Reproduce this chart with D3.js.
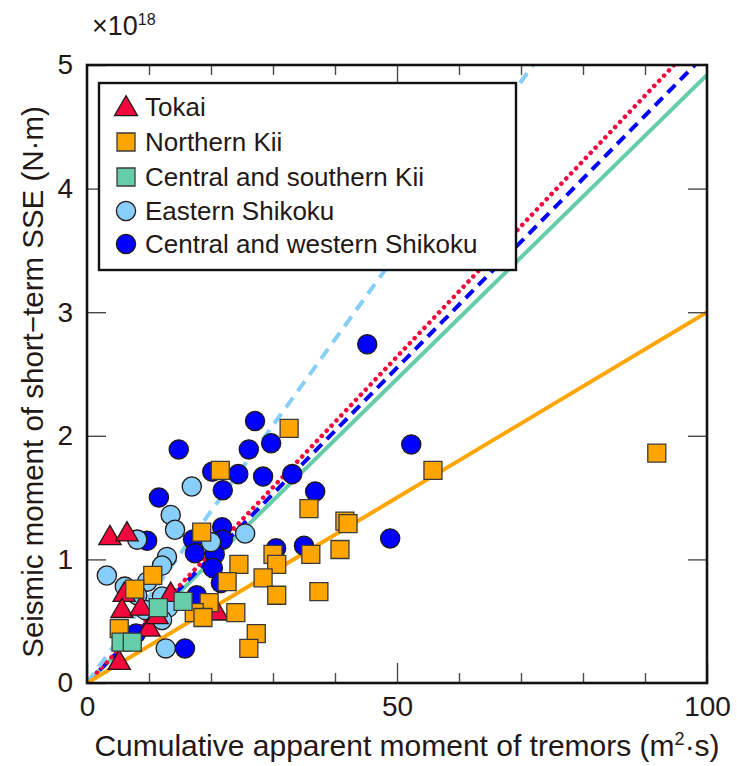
<!DOCTYPE html>
<html><head><meta charset="utf-8">
<script src="https://cdn.jsdelivr.net/npm/d3@7/dist/d3.min.js"></script>
<style>
html,body{margin:0;padding:0;background:#fff;}
text{font-family:"Liberation Sans",Arial,Helvetica,sans-serif;fill:#231815;}
</style></head>
<body>
<svg id="chart" width="737" height="766"></svg>
<script>
// ---- data (x: cumulative apparent moment of tremors, m^2·s; y: seismic moment ×1e18 N·m)
const seriesNames = ["Tokai","Northern Kii","Central and southern Kii","Eastern Shikoku","Central and western Shikoku"];
const tokai = [[3.7,1.18],[6.45,1.21],[6.0,0.72],[5.65,0.59],[8.7,0.61],[10.0,0.44],[13.5,0.72],[21.0,0.57],[5.2,0.17],[11.3,0.54]];
const northernKii = [[91.9,1.86],[55.8,1.72],[32.6,2.06],[21.5,1.72],[35.8,1.41],[41.6,1.31],[42.1,1.29],[18.5,1.22],[24.5,0.96],[30.0,1.04],[30.6,0.96],[36.1,1.04],[40.8,1.08],[22.6,0.82],[28.4,0.85],[30.6,0.71],[37.4,0.74],[19.7,0.65],[24.0,0.57],[17.3,0.57],[18.7,0.53],[27.3,0.40],[26.1,0.28],[10.6,0.87],[7.7,0.76],[5.2,0.44]];
const centralSouthernKii = [[15.5,0.66],[11.5,0.61],[5.5,0.33],[7.3,0.33]];
const easternShikoku = [[16.9,1.59],[13.5,1.36],[14.2,1.24],[8.1,1.16],[25.5,1.21],[20.0,1.14],[12.9,1.02],[3.2,0.87],[6.1,0.78],[9.7,0.82],[12.1,0.70],[13.1,0.61],[12.1,0.51],[12.7,0.28],[8.1,0.71],[9.4,0.59],[12.1,0.95]];
const centralWesternShikoku = [[45.2,2.74],[52.3,1.93],[48.9,1.17],[27.1,2.12],[14.8,1.89],[29.7,1.94],[26.1,1.89],[20.2,1.71],[24.4,1.69],[28.4,1.67],[33.1,1.69],[21.9,1.56],[36.8,1.55],[11.6,1.50],[21.8,1.26],[21.9,1.16],[17.1,1.16],[17.4,1.05],[20.6,1.04],[20.3,0.93],[21.6,0.81],[17.7,0.71],[30.5,1.09],[35.0,1.11],[9.7,1.15],[15.8,0.28],[7.9,0.40]];
// fitted slopes (×1e18 N·m per m^2·s), lines through the origin
const fitSlopes = [0.0528, 0.0300, 0.0492, 0.0695, 0.0510];
const xMajorTicks = [0, 50, 100];
const xMinorTicks = [10, 20, 30, 40, 60, 70, 80, 90];
const yTicks = [0, 1, 2, 3, 4, 5];
const xLabel = "Cumulative apparent moment of tremors (m";
const yLabel = "Seismic moment of short\u2212term SSE (N\u00b7m)";

// ---- styles
const colors = ["#f2083c", "#ffa500", "#66cdaa", "#87cefa", "#0000ff"];
const shapes = [d3.symbolTriangle, d3.symbolSquare, d3.symbolSquare, d3.symbolCircle, d3.symbolCircle];
const symSize = [215, 324, 324, 290, 290];
const strokes = ["#231815", "#3a3a3a", "#3a3a3a", "#231815", "#231815"];
const lineDash = ["0.1 7", null, null, "12 8", "11 7"];
const lineCap = ["round", "butt", "butt", "butt", "butt"];

const svg = d3.select("#chart");
const L = 87, R = 707, T = 65, B = 683;
const x = d3.scaleLinear().domain([0, 100]).range([L, R]);
const y = d3.scaleLinear().domain([0, 5]).range([B, T]);

svg.append("defs").append("clipPath").attr("id", "clip")
  .append("rect").attr("x", L).attr("y", T).attr("width", R - L).attr("height", B - T);

// fit lines
const plot = svg.append("g").attr("clip-path", "url(#clip)");
const lineOrder = [2, 4, 0, 3, 1];
lineOrder.forEach(i => {
  plot.append("line")
    .attr("x1", x(0)).attr("y1", y(0))
    .attr("x2", x(100)).attr("y2", y(100 * fitSlopes[i]))
    .attr("stroke", colors[i]).attr("stroke-width", i === 0 ? 4.5 : 4)
    .attr("stroke-linecap", lineCap[i])
    .attr("stroke-dasharray", lineDash[i]);
});

// points
const allData = [tokai, northernKii, centralSouthernKii, easternShikoku, centralWesternShikoku];
const drawOrder = [4, 3, 0, 1, 2];
drawOrder.forEach(i => {
  plot.append("g").selectAll("path").data(allData[i]).join("path")
    .attr("transform", d => `translate(${x(d[0])},${y(d[1]) + (i === 0 ? 1 : 0)})`)
    .attr("d", d3.symbol().type(shapes[i]).size(symSize[i]))
    .attr("fill", colors[i]).attr("stroke", strokes[i]).attr("stroke-width", 1.3);
});

// axes
function styleAxis(g) {
  g.select(".domain").remove();
  g.selectAll(".tick line").attr("stroke", "#4a4a4a").attr("stroke-width", 1.4);
  g.selectAll(".tick text").style("font-size", "28px").attr("fill", "#231815");
}
svg.append("g").attr("transform", `translate(0,${B})`)
  .call(d3.axisBottom(x).tickValues(xMinorTicks).tickSize(-10).tickFormat("")).call(styleAxis);
svg.append("g").attr("transform", `translate(0,${B})`)
  .call(d3.axisBottom(x).tickValues(xMajorTicks).tickSize(-20).tickPadding(13).tickFormat(d3.format("d"))).call(styleAxis);
svg.append("g").attr("transform", `translate(0,${T})`)
  .call(d3.axisTop(x).tickValues(xMinorTicks).tickSize(-10).tickFormat("")).call(styleAxis);
svg.append("g").attr("transform", `translate(0,${T})`)
  .call(d3.axisTop(x).tickValues([50]).tickSize(-20).tickFormat("")).call(styleAxis);
svg.append("g").attr("transform", `translate(${L},0)`)
  .call(d3.axisLeft(y).tickValues(yTicks).tickSize(-19).tickPadding(14).tickFormat(d3.format("d"))).call(styleAxis);
svg.append("g").attr("transform", `translate(${R},0)`)
  .call(d3.axisRight(y).tickValues(yTicks.slice(1, -1)).tickSize(-19).tickFormat("")).call(styleAxis);

// frame
svg.append("rect").attr("x", L).attr("y", T).attr("width", R - L).attr("height", B - T)
  .attr("fill", "none").attr("stroke", "#111").attr("stroke-width", 2.6);

// multiplier
const mult = svg.append("text").attr("x", 92).attr("y", 35).style("font-size", "27px");
mult.append("tspan").text("\u00d710");
mult.append("tspan").attr("dy", -10).style("font-size", "16px").text("18");

// axis labels
const xl = svg.append("text").attr("x", 407).attr("y", 756).attr("text-anchor", "middle").style("font-size", "30px");
xl.append("tspan").text(xLabel);
xl.append("tspan").attr("dy", -11).style("font-size", "18px").text("2");
xl.append("tspan").attr("dy", 11).text("\u00b7s)");
svg.append("text").attr("transform", "translate(43,382) rotate(-90)")
  .attr("text-anchor", "middle").style("font-size", "29.5px").text(yLabel);

// legend
const lg = svg.append("g");
lg.append("rect").attr("x", 99).attr("y", 83).attr("width", 417).attr("height", 187)
  .attr("fill", "#fff").attr("stroke", "#111").attr("stroke-width", 2.4);
const rowY = [107, 142, 177, 211, 244];
seriesNames.forEach((name, i) => {
  lg.append("path").attr("transform", `translate(126,${rowY[i] + (i === 0 ? 2 : 0)})`)
    .attr("d", d3.symbol().type(shapes[i]).size(i === 0 ? 230 : symSize[i]))
    .attr("fill", colors[i]).attr("stroke", strokes[i]).attr("stroke-width", 1.3);
  lg.append("text").attr("x", 145).attr("y", rowY[i] + 9).style("font-size", "26px").text(name);
});
</script>
</body></html>
